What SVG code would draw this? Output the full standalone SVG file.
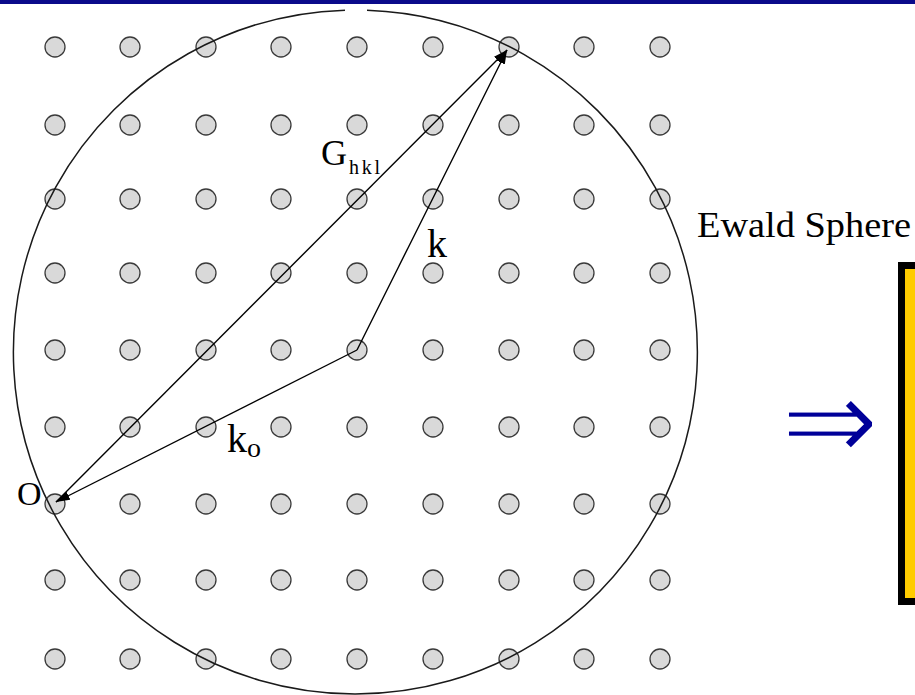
<svg xmlns="http://www.w3.org/2000/svg" width="915" height="695" viewBox="0 0 915 695">
<style>
.dot{fill:#d9d9d9;stroke:#3a3a3a;stroke-width:1.3}
.ln{stroke:#000;stroke-width:1.4;fill:none}
.lbl{font-family:"Liberation Serif","Times New Roman",serif;fill:#000}
</style>
<defs>
<marker id="ah" markerUnits="userSpaceOnUse" markerWidth="16" markerHeight="10" refX="14" refY="4.5" orient="auto">
<path d="M0,0 L14,4.5 L0,9 z" fill="#000"/>
</marker>
</defs>
<rect x="0" y="0" width="915" height="695" fill="#fff"/>
<rect x="0" y="0" width="915" height="4" fill="#0a0a8a"/>
<g id="lattice">
<g id="row1"><circle class="dot" cx="55" cy="47" r="10"/><circle class="dot" cx="130" cy="47" r="10"/><circle class="dot" cx="206" cy="47" r="10"/><circle class="dot" cx="281" cy="47" r="10"/><circle class="dot" cx="357" cy="47" r="10"/><circle class="dot" cx="433" cy="47" r="10"/><circle class="dot" cx="509" cy="47" r="10"/><circle class="dot" cx="584" cy="47" r="10"/><circle class="dot" cx="660" cy="47" r="10"/></g>
<g id="row2"><circle class="dot" cx="55" cy="125" r="10"/><circle class="dot" cx="130" cy="125" r="10"/><circle class="dot" cx="206" cy="125" r="10"/><circle class="dot" cx="281" cy="125" r="10"/><circle class="dot" cx="357" cy="125" r="10"/><circle class="dot" cx="433" cy="125" r="10"/><circle class="dot" cx="509" cy="125" r="10"/><circle class="dot" cx="584" cy="125" r="10"/><circle class="dot" cx="660" cy="125" r="10"/></g>
<g id="row3"><circle class="dot" cx="55" cy="199" r="10"/><circle class="dot" cx="130" cy="199" r="10"/><circle class="dot" cx="206" cy="199" r="10"/><circle class="dot" cx="281" cy="199" r="10"/><circle class="dot" cx="357" cy="199" r="10"/><circle class="dot" cx="433" cy="199" r="10"/><circle class="dot" cx="509" cy="199" r="10"/><circle class="dot" cx="584" cy="199" r="10"/><circle class="dot" cx="660" cy="199" r="10"/></g>
<g id="row4"><circle class="dot" cx="55" cy="273" r="10"/><circle class="dot" cx="130" cy="273" r="10"/><circle class="dot" cx="206" cy="273" r="10"/><circle class="dot" cx="281" cy="273" r="10"/><circle class="dot" cx="357" cy="273" r="10"/><circle class="dot" cx="433" cy="273" r="10"/><circle class="dot" cx="509" cy="273" r="10"/><circle class="dot" cx="584" cy="273" r="10"/><circle class="dot" cx="660" cy="273" r="10"/></g>
<g id="row5"><circle class="dot" cx="55" cy="350" r="10"/><circle class="dot" cx="130" cy="350" r="10"/><circle class="dot" cx="206" cy="350" r="10"/><circle class="dot" cx="281" cy="350" r="10"/><circle class="dot" cx="357" cy="350" r="10"/><circle class="dot" cx="433" cy="350" r="10"/><circle class="dot" cx="509" cy="350" r="10"/><circle class="dot" cx="584" cy="350" r="10"/><circle class="dot" cx="660" cy="350" r="10"/></g>
<g id="row6"><circle class="dot" cx="55" cy="427" r="10"/><circle class="dot" cx="130" cy="427" r="10"/><circle class="dot" cx="206" cy="427" r="10"/><circle class="dot" cx="281" cy="427" r="10"/><circle class="dot" cx="357" cy="427" r="10"/><circle class="dot" cx="433" cy="427" r="10"/><circle class="dot" cx="509" cy="427" r="10"/><circle class="dot" cx="584" cy="427" r="10"/><circle class="dot" cx="660" cy="427" r="10"/></g>
<g id="row7"><circle class="dot" cx="55" cy="504" r="10"/><circle class="dot" cx="130" cy="504" r="10"/><circle class="dot" cx="206" cy="504" r="10"/><circle class="dot" cx="281" cy="504" r="10"/><circle class="dot" cx="357" cy="504" r="10"/><circle class="dot" cx="433" cy="504" r="10"/><circle class="dot" cx="509" cy="504" r="10"/><circle class="dot" cx="584" cy="504" r="10"/><circle class="dot" cx="660" cy="504" r="10"/></g>
<g id="row8"><circle class="dot" cx="55" cy="580" r="10"/><circle class="dot" cx="130" cy="580" r="10"/><circle class="dot" cx="206" cy="580" r="10"/><circle class="dot" cx="281" cy="580" r="10"/><circle class="dot" cx="357" cy="580" r="10"/><circle class="dot" cx="433" cy="580" r="10"/><circle class="dot" cx="509" cy="580" r="10"/><circle class="dot" cx="584" cy="580" r="10"/><circle class="dot" cx="660" cy="580" r="10"/></g>
<g id="row9"><circle class="dot" cx="55" cy="659" r="10"/><circle class="dot" cx="130" cy="659" r="10"/><circle class="dot" cx="206" cy="659" r="10"/><circle class="dot" cx="281" cy="659" r="10"/><circle class="dot" cx="357" cy="659" r="10"/><circle class="dot" cx="433" cy="659" r="10"/><circle class="dot" cx="509" cy="659" r="10"/><circle class="dot" cx="584" cy="659" r="10"/><circle class="dot" cx="660" cy="659" r="10"/></g>
</g>
<g id="ewald-sphere">
<path d="M367,10.2 A342,342 0 1 1 345,10.16" fill="none" stroke="#1a1a1a" stroke-width="1.5"/>
</g>
<g id="connectors">
<line id="k0-vec" class="ln" x1="357" y1="350" x2="56" y2="502" marker-end="url(#ah)"/>
<line id="k-vec" class="ln" x1="357" y1="350" x2="507" y2="50" marker-end="url(#ah)"/>
<line id="G-vec" class="ln" x1="56" y1="502" x2="507" y2="50" marker-end="url(#ah)"/>
</g>
<g id="labels">
<text class="lbl" x="17" y="505" font-size="34">O</text>
<text class="lbl" x="321" y="165" font-size="36">G</text>
<text class="lbl" x="349" y="174" font-size="20" textLength="31" lengthAdjust="spacing">hkl</text>
<text class="lbl" x="427" y="257" font-size="40">k</text>
<text class="lbl" x="227" y="452" font-size="40">k<tspan font-size="28" dy="5">o</tspan></text>
<text class="lbl" x="697" y="237" font-size="35" textLength="214" lengthAdjust="spacingAndGlyphs">Ewald Sphere</text>
</g>
<g id="implies">
<text x="781" y="461" font-family="DejaVu Sans, sans-serif" font-size="117" fill="#000099" stroke="#fff" stroke-width="2.6">⇒</text>
</g>
<g id="result-box">
<rect x="901.5" y="265.5" width="30" height="336" fill="#ffcc00" stroke="#000" stroke-width="7"/>
</g>
</svg>
